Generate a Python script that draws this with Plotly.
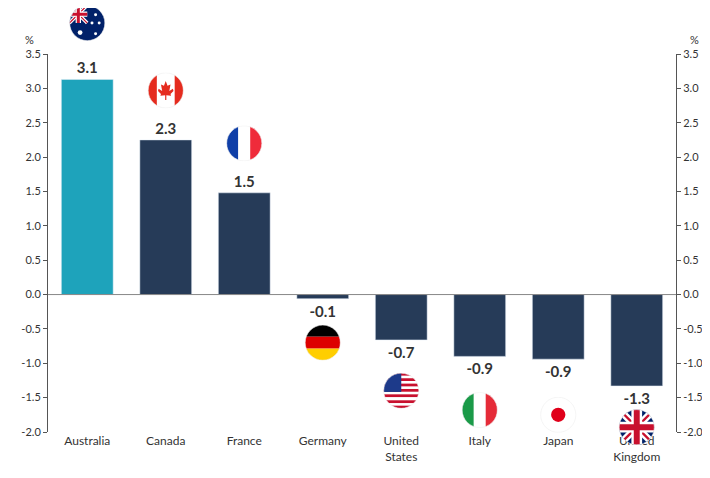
import base64
import plotly.graph_objects as go

countries = ["Australia", "Canada", "France", "Germany", "United<br>States",
             "Italy", "Japan", "United<br>Kingdom"]
values = [3.13, 2.25, 1.48, -0.06, -0.66, -0.90, -0.94, -1.33]
labels = ["3.1", "2.3", "1.5", "-0.1", "-0.7", "-0.9", "-0.9", "-1.3"]
flag_y = [3.95, 2.97, 2.20, -0.70, -1.40, -1.68, -1.75, -1.93]
flag_codes = ["au", "ca", "fr", "de", "us", "it", "jp", "gb"]
colors = ["#1ea3bb"] + ["#263b58"] * 7

TICKS = [3.5, 3.0, 2.5, 2.0, 1.5, 1.0, 0.5, 0.0, -0.5, -1.0, -1.5, -2.0]
Y_MIN, Y_MAX = -2.0, 3.5

union = ('<rect width="60" height="60" fill="#012169"/>'
         '<path d="M0,0L60,60M60,0L0,60" stroke="#fff" stroke-width="12"/>'
         '<path d="M0,0L60,60M60,0L0,60" stroke="#c8102e" stroke-width="4"/>'
         '<path d="M30,0V60M0,30H60" stroke="#fff" stroke-width="18"/>'
         '<path d="M30,0V60M0,30H60" stroke="#c8102e" stroke-width="10"/>')

bodies = {
    "au": '<rect width="60" height="60" fill="#012169"/>'
          '<g transform="scale(0.5)">' + union + '</g>'
          '<circle cx="18" cy="46" r="4" fill="#fff"/><circle cx="44" cy="16" r="2.5" fill="#fff"/>'
          '<circle cx="50" cy="30" r="2.5" fill="#fff"/><circle cx="44" cy="48" r="2.5" fill="#fff"/>'
          '<circle cx="38" cy="30" r="2.5" fill="#fff"/>',
    "ca": '<rect width="60" height="60" fill="#fff"/><rect width="15" height="60" fill="#e52b1e"/>'
          '<rect x="45" width="15" height="60" fill="#e52b1e"/>'
          '<path d="M30,14L33,22L38,20L36,31L42,27L43,31L38,36L39,39L31,38V46H29V38L21,39L22,36L17,31L18,27L24,31L22,20L27,22Z" fill="#e52b1e"/>',
    "fr": '<rect width="20" height="60" fill="#0f3fa8"/><rect x="20" width="20" height="60" fill="#fff"/>'
          '<rect x="40" width="20" height="60" fill="#ef2b3a"/>',
    "de": '<rect width="60" height="20" fill="#000"/><rect y="20" width="60" height="20" fill="#dd0000"/>'
          '<rect y="40" width="60" height="20" fill="#ffce00"/>',
    "us": '<rect width="60" height="60" fill="#fff"/>'
          + ''.join('<rect y="%d" width="60" height="4.6" fill="#c8102e"/>' % (i * 9.2) for i in range(7))
          + '<rect width="30" height="32" fill="#1d3a8a"/>',
    "it": '<rect width="20" height="60" fill="#1a9a48"/><rect x="20" width="20" height="60" fill="#fff"/>'
          '<rect x="40" width="20" height="60" fill="#e52b38"/>',
    "jp": '<rect width="60" height="60" fill="#fff"/><circle cx="30" cy="30" r="12" fill="#e0001a"/>',
    "gb": union,
}


def flag_uri(code):
    svg = ('<svg xmlns="http://www.w3.org/2000/svg" width="60" height="60" viewBox="0 0 60 60">'
           '<defs><clipPath id="c"><circle cx="30" cy="30" r="29.5"/></clipPath></defs>'
           '<g clip-path="url(#c)">' + bodies[code] + '</g>'
           '<circle cx="30" cy="30" r="29.5" fill="none" stroke="#eee" stroke-width="1"/></svg>')
    return "data:image/svg+xml;base64," + base64.b64encode(svg.encode()).decode()


fig = go.Figure(go.Bar(
    x=countries, y=values, marker_color=colors, width=0.66,
    text=["<b>%s</b>" % t for t in labels], textposition="outside", cliponaxis=False,
    textfont=dict(family="Lato", size=15, color="#333333"),
))
fig.add_trace(go.Scatter(x=countries, y=values, yaxis="y2", mode="markers",
                         marker=dict(opacity=0), hoverinfo="skip", showlegend=False))

# flags in paper coords so the ones outside the plot area are still drawn
for i, c in enumerate(flag_codes):
    fig.add_layout_image(dict(source=flag_uri(c), xref="x", yref="paper", x=i,
                              y=(flag_y[i] - Y_MIN) / (Y_MAX - Y_MIN),
                              sizex=0.5, sizey=0.5 / (Y_MAX - Y_MIN) * 1.04,
                              xanchor="center", yanchor="middle", layer="above"))

axis_style = dict(range=[Y_MIN, Y_MAX], tickvals=TICKS, ticktext=["%.1f" % t for t in TICKS],
                  showgrid=False, zeroline=False, showline=True, linecolor="#555",
                  ticks="outside", ticklen=4, tickcolor="#555", automargin=False,
                  tickfont=dict(family="Lato", size=11, color="#333"))

fig.update_layout(
    width=710, height=478, margin=dict(l=40, r=42, t=46, b=54),
    plot_bgcolor="white", paper_bgcolor="white", showlegend=False, bargap=0.34,
    xaxis=dict(showline=False, ticks="", automargin=False,
               tickfont=dict(family="Lato", size=12, color="#333")),
    yaxis=dict(**axis_style),
    yaxis2=dict(**axis_style, overlaying="y", side="right"),
    shapes=[dict(type="line", xref="paper", yref="y", x0=0, x1=1, y0=0, y1=0,
                 line=dict(color="#888", width=1))],
    annotations=[
        dict(text="%", xref="paper", yref="paper", x=-0.04, y=1.06, showarrow=False,
             font=dict(family="Lato", size=11, color="#333")),
        dict(text="%", xref="paper", yref="paper", x=1.04, y=1.06, showarrow=False,
             font=dict(family="Lato", size=11, color="#333")),
    ],
)

fig.write_html("out.html")
